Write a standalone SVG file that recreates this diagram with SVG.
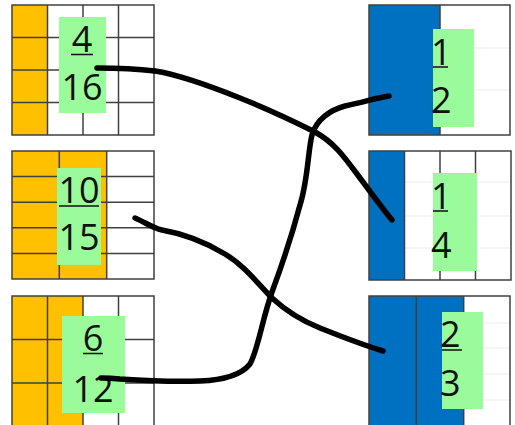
<svg xmlns="http://www.w3.org/2000/svg" width="515" height="425" viewBox="0 0 515 425">
<defs>
<style>
.grid{fill:none;stroke:#404040;stroke-width:1.5}
.faint{fill:none;stroke:#ececec;stroke-width:1}
.org{fill:#FFC000}
.blu{fill:#0070C0}
.wht{fill:#ffffff}
.grn{fill:#99FB99}
.num{font-family:"Open Sans","Noto Sans",sans-serif;font-size:36px;fill:#111}
.c{text-anchor:middle}
.ul{stroke:#111;stroke-width:1.5}
.ink{fill:none;stroke:#000;stroke-width:5.5;stroke-linecap:round;stroke-linejoin:round}
</style>
</defs>
<rect width="515" height="425" fill="#ffffff"/>

<g id="left1">
<rect class="wht" x="12" y="5" width="142" height="130"/>
<rect class="org" x="12" y="5" width="35.5" height="130"/>
<path class="grid" d="M12 5H154V135H12Z M47.5 5V135 M83 5V135 M118.5 5V135 M12 37.5H154 M12 70H154 M12 102.5H154"/>
<rect class="grn" x="59" y="17" width="47" height="96"/>
<text class="num c" x="82" y="52">4</text>
<line class="ul" x1="71" y1="54.5" x2="93" y2="54.5"/>
<text class="num c" x="82" y="100">16</text>
</g>

<g id="left2">
<rect class="wht" x="12" y="151" width="142" height="128"/>
<rect class="org" x="12" y="151" width="94.7" height="128"/>
<path class="grid" d="M12 151H154V279H12Z M59.3 151V279 M106.7 151V279 M12 176.6H154 M12 202.2H154 M12 227.8H154 M12 253.4H154"/>
<rect class="grn" x="57" y="168" width="44" height="97"/>
<text class="num c" x="79" y="203">10</text>
<line class="ul" x1="59" y1="206" x2="99" y2="206"/>
<text class="num c" x="79" y="250">15</text>
</g>

<g id="left3">
<rect class="wht" x="12" y="296" width="142" height="135"/>
<rect class="org" x="12" y="296" width="71" height="135"/>
<path class="grid" d="M154 431V296H12V431 M47.5 296V431 M83 296V431 M118.5 296V431 M12 339.5H154 M12 383H154"/>
<rect class="grn" x="62" y="316" width="63" height="97"/>
<text class="num c" x="93" y="351">6</text>
<line class="ul" x1="83" y1="353.5" x2="103" y2="353.5"/>
<text class="num c" x="93" y="402">12</text>
</g>

<g id="right1">
<rect class="wht" x="369" y="5" width="141" height="130"/>
<path class="faint" d="M440 48H510 M440 90H510"/>
<rect class="blu" x="369" y="5" width="71" height="130"/>
<path class="grid" d="M369 5H510V135H369Z M440 5V135"/>
<rect class="grn" x="433" y="29" width="41" height="98"/>
<text class="num" x="431" y="65">1</text>
<line class="ul" x1="433" y1="67" x2="448" y2="67"/>
<text class="num" x="431" y="113">2</text>
</g>

<g id="right2">
<rect class="wht" x="369" y="151" width="142" height="129"/>
<path class="faint" d="M404.5 182H511 M404.5 216H511 M404.5 248H511"/>
<rect class="blu" x="369" y="151" width="35.5" height="129"/>
<path class="grid" d="M369 151H511V280H369Z M404.5 151V280 M440 151V280 M475.5 151V280"/>
<rect class="grn" x="433" y="173" width="44" height="98"/>
<text class="num" x="431" y="209">1</text>
<line class="ul" x1="433" y1="211" x2="448" y2="211"/>
<text class="num" x="431" y="258">4</text>
</g>

<g id="right3">
<rect class="wht" x="369" y="296" width="141" height="135"/>
<path class="faint" d="M463.7 323H510 M463.7 348H510 M463.7 374H510 M463.7 400H510"/>
<rect class="blu" x="369" y="296" width="94.7" height="135"/>
<path class="grid" d="M510 431V296H369V431 M416.3 296V431 M463.7 296V431"/>
<rect class="grn" x="442" y="312" width="41" height="97"/>
<text class="num" x="440" y="347">2</text>
<line class="ul" x1="442" y1="350" x2="462" y2="350"/>
<text class="num" x="440" y="396">3</text>
</g>

<g id="connectors">
<path class="ink" d="M97 68 C110 68 130 68 155 71 C175 74 200 82 240 98 C265 108 295 122 315 132 C335 143 345 158 360 178 C372 194 382 208 392 220"/>
<path class="ink" d="M389 96 C375 98 365 102 345 106 C330 110 316 120 312 135 C308 150 308 180 300 205 C292 235 282 265 272 292 C262 320 258 350 250 364 C242 374 225 380 200 381 C175 382 150 381 120 379 C110 378 104 378 101 378"/>
<path class="ink" d="M135 218 C145 222 152 228 162 230 C185 234 205 242 225 254 C245 266 258 284 272 298 C285 310 300 320 320 328 C340 336 360 344 383 351"/>
</g>
</svg>
